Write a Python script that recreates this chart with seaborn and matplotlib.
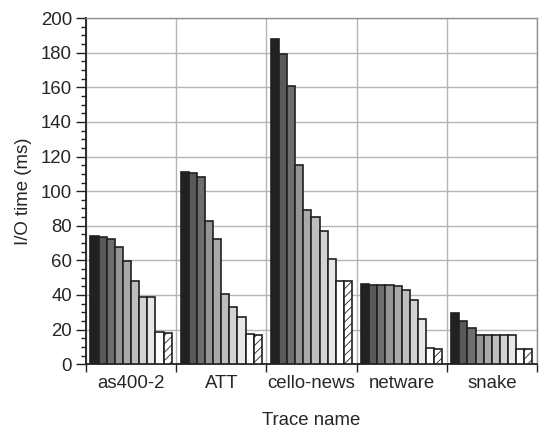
import matplotlib
matplotlib.use('Agg')
import matplotlib.pyplot as plt
import seaborn as sb
import pandas as pd
import numpy as np

traces = ['as400-2', 'ATT', 'cello-news', 'netware', 'snake']
configs = ['c1', 'c2', 'c3', 'c4', 'c5', 'c6', 'c7', 'c8', 'c9', 'c10']

as400 = [74, 73.6, 72.5, 68, 59.4, 47.8, 38.9, 38.9, 18.4, 18]
att = [110.8, 110.4, 108.4, 82.8, 72.6, 40.8, 33.3, 27, 17.2, 16.8]
cello = [188.2, 179.2, 161, 115.1, 89, 85.1, 77.2, 60.8, 48.1, 47.9]
netware = [46.2, 46, 45.9, 45.6, 45, 42.7, 37.1, 26, 9.6, 8.8]
snake = [29.8, 25, 21, 17.1, 17.1, 17.1, 17.1, 17.1, 8.7, 8.5]

colors = ['#231f20', '#58595b', '#6d6e71', '#939598', '#a7a9ac',
          '#bcbec0', '#d1d3d4', '#e6e7e8', '#ffffff', '#ffffff']

rows = []
for name, vals in zip(traces, [as400, att, cello, netware, snake]):
    for c, v in zip(configs, vals):
        rows.append({'trace': name, 'config': c, 'time': v})
df = pd.DataFrame(rows)

sb.set_style('white')
plt.rcParams['font.family'] = ['Liberation Sans', 'DejaVu Sans']
plt.rcParams['hatch.linewidth'] = 0.6

fig = plt.figure(figsize=(5.44, 4.33), dpi=100)
ax = fig.add_axes([0.158, 0.159, 0.829, 0.799])

sb.barplot(data=df, x='trace', y='time', hue='config', order=traces,
           hue_order=configs, palette=colors, width=0.9, gap=0,
           edgecolor='#231f20', linewidth=1.2, legend=False, ax=ax, zorder=3)

# hatch the last bar of every group
for bar in ax.containers[-1]:
    bar.set_hatch('////')

ax.set_xlim(-0.5, 4.5)
ax.set_ylim(0, 200)
ax.set_yticks(np.arange(0, 201, 20))
ax.set_yticks(np.arange(0, 201, 5), minor=True)
ax.set_xticks(np.arange(-0.5, 4.6, 1), minor=True)

ax.grid(axis='y', which='major', color='#b5b5b5', lw=1, zorder=0)
ax.grid(axis='x', which='minor', color='#b5b5b5', lw=1, zorder=0)
ax.set_axisbelow(True)

ax.tick_params(axis='x', which='major', length=0, labelsize=13.4, pad=8)
ax.tick_params(axis='x', which='minor', length=6, width=1, color='#231f20', direction='out', bottom=True)
ax.tick_params(axis='y', which='major', length=7, width=1, color='#231f20', direction='out', left=True, labelsize=13.4, pad=3)
ax.tick_params(axis='y', which='minor', length=3.5, width=1, color='#231f20', direction='out', left=True)

for s in ['left', 'bottom']:
    ax.spines[s].set_color('#231f20')
    ax.spines[s].set_linewidth(1.3)
for s in ['top', 'right']:
    ax.spines[s].set_color('#909090')
    ax.spines[s].set_linewidth(1)

ax.set_xlabel('Trace name', fontsize=13.4, labelpad=14)
ax.set_ylabel('I/O time (ms)', fontsize=13.4, labelpad=6)

plt.savefig('out.png', dpi=100)
plt.close()
